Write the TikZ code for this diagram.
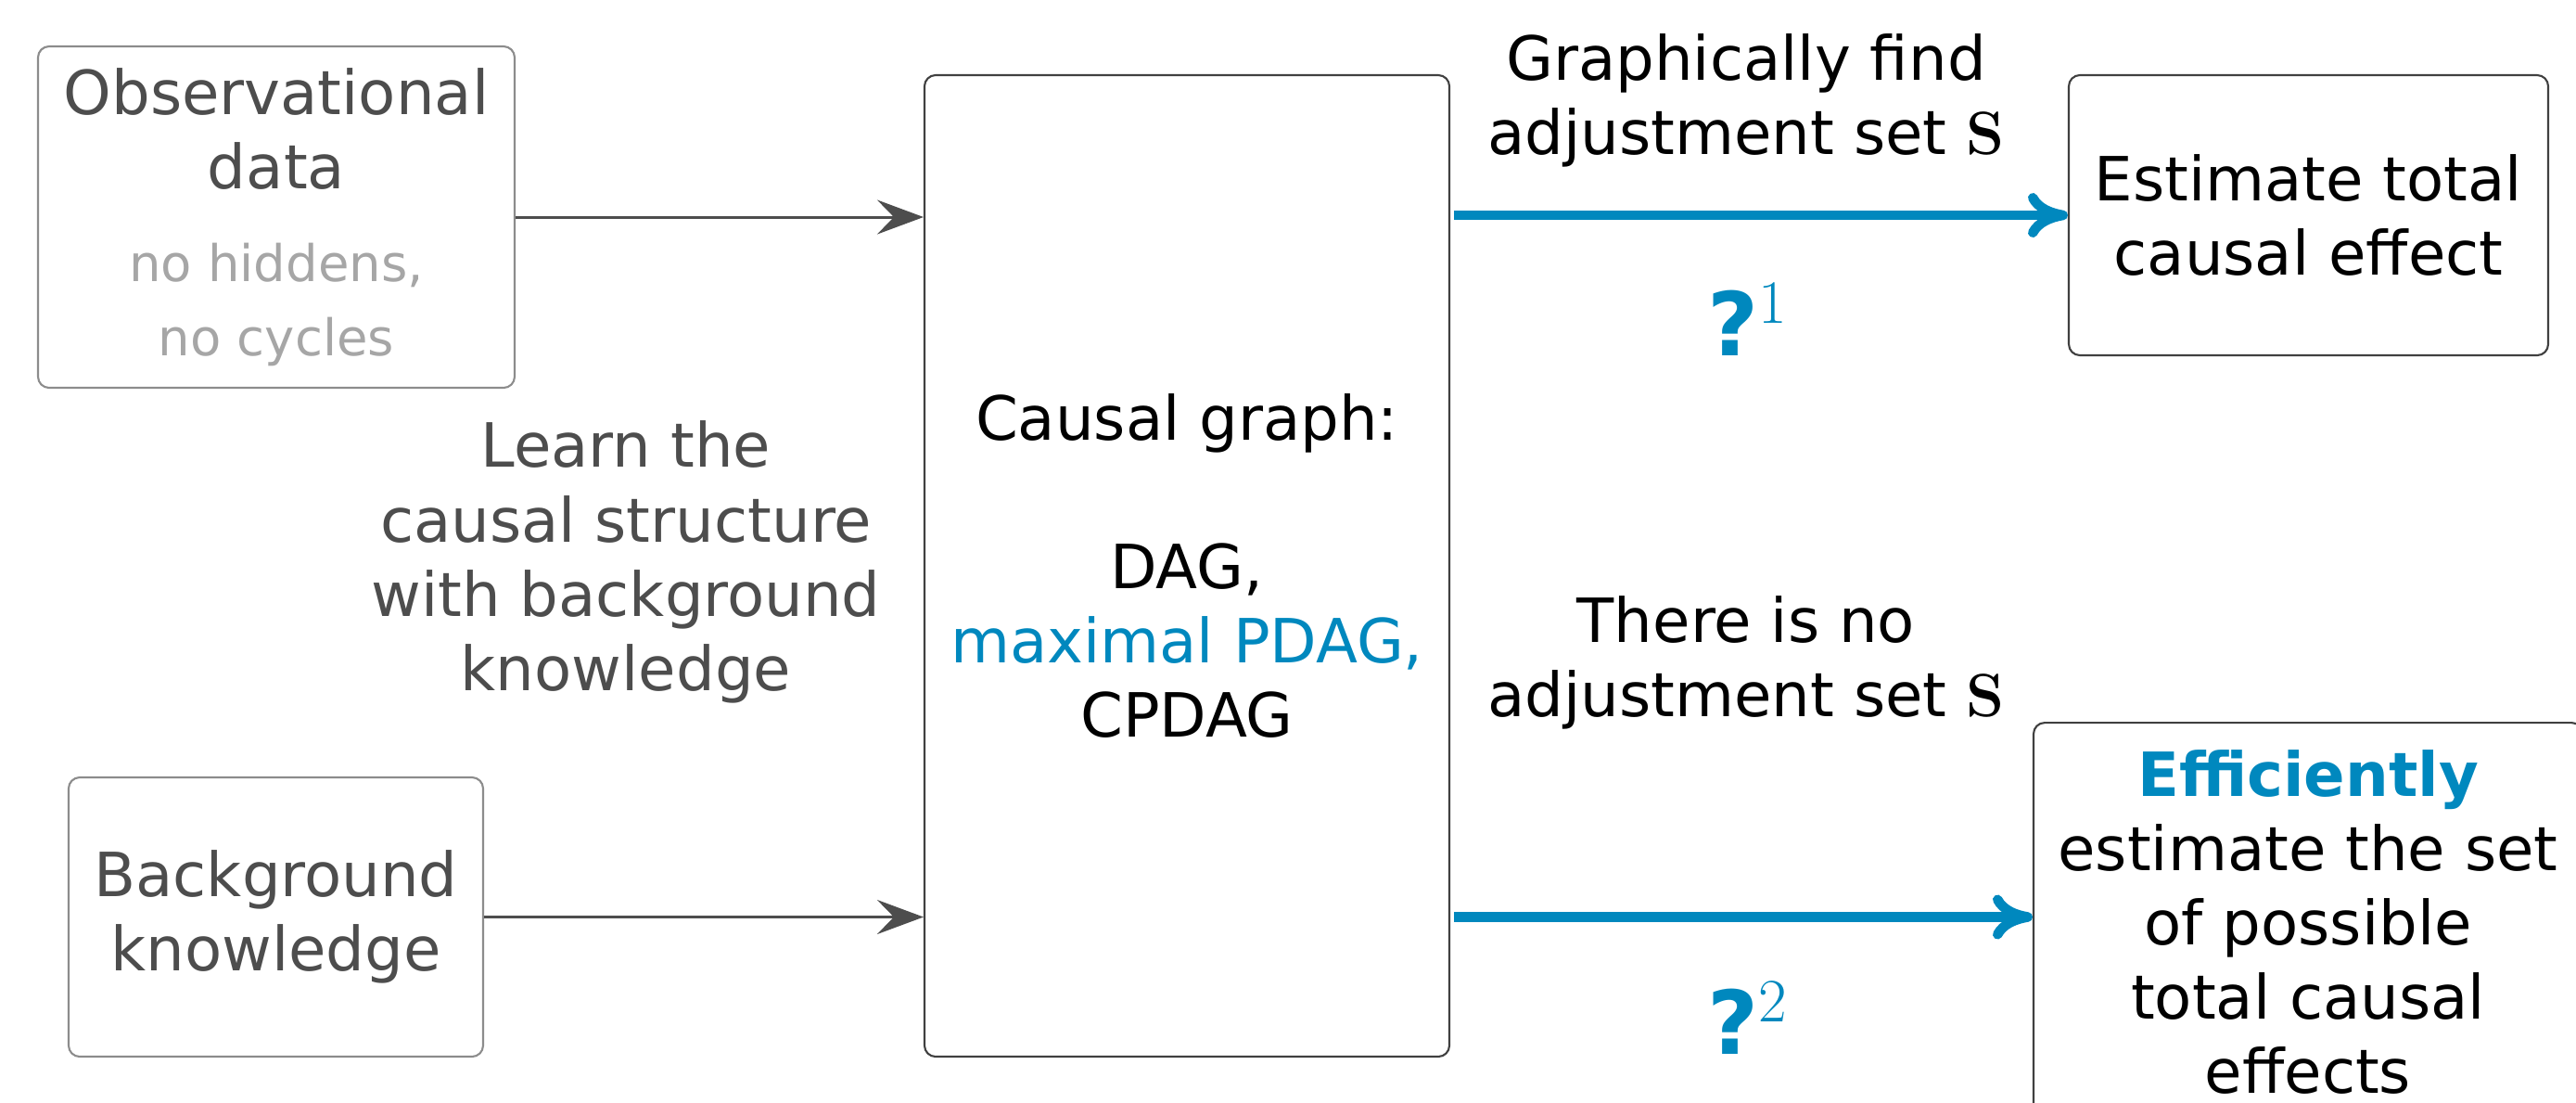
\RequirePackage{fix-cm}
\documentclass[tikz,border=0pt]{standalone}
\usepackage[no-math]{fontspec}
\setmainfont{DejaVu Sans}
\usetikzlibrary{arrows.meta}
\definecolor{InkGrey}{HTML}{4D4D4D}
\definecolor{SoftGrey}{HTML}{A6A6A6}
\definecolor{EdgeBlue}{RGB}{0, 136, 190}

\begin{document}
\begin{tikzpicture}[
        box/.style={draw=black!75, rounded corners=3.4pt, line width=0.6pt, align=center, inner sep=0pt, font=\fontsize{18.7}{22.8}\selectfont},
        inbox/.style={box, draw=black!45, text=InkGrey},
        note/.style={align=center, inner sep=0pt, font=\fontsize{18.7}{22.8}\selectfont},
        qmark/.style={inner sep=0pt, anchor=base, text=EdgeBlue, font=\fontsize{27}{32}\selectfont},
        feed/.style={-{Stealth[length=5mm, width=3.7mm, inset=1.8mm]}, line width=0.85pt, InkGrey},
        flow/.style={-{Computer Modern Rightarrow[length=4.3mm, width=4.8mm]}, line width=3pt, EdgeBlue, shorten <=0.4mm}
    ]
        \clip (0, 0) rectangle (27.78, -11.88);

        % Inputs
        \node[inbox, minimum width=5.14cm, minimum height=3.68cm] (obs) at (2.98, -2.34) {Observational\\data\\[0.2cm]\color{SoftGrey}\fontsize{15.5}{22.3}\selectfont no hiddens,\\\color{SoftGrey}\fontsize{15.5}{22.3}\selectfont no cycles};
        \node[inbox, minimum width=4.47cm, minimum height=3.01cm] (bk) at (2.975, -9.885) {Background\\knowledge};
        \node[note, text=InkGrey] (learn) at (6.75, -6.06) {Learn the\\causal structure\\with background\\knowledge};

        % Graph
        \node[box, minimum width=5.66cm, minimum height=10.58cm] (graph) at (12.80, -6.10) {Causal graph:\\[0.8cm]DAG,\\\color{EdgeBlue}maximal PDAG,\\CPDAG};

        % Outcomes
        \node[box, minimum width=5.17cm, minimum height=3.02cm] (est) at (24.895, -2.32) {Estimate total\\causal effect};
        \node[box, minimum width=5.92cm, minimum height=4.3cm, anchor=north] (eff) at (24.89, -7.78) {\textbf{\color{EdgeBlue}Efficiently}\\estimate the set\\of possible\\total causal\\effects};

        \node[note] (find) at (18.83, -1.08) {Graphically find\\adjustment set $\mathbf{S}$};
        \node[qmark] (q1) at (18.85, -3.83) {\textbf{?}$^1$};
        \node[note] (noset) at (18.83, -7.14) {There is no\\adjustment set $\mathbf{S}$};
        \node[qmark] (q2) at (18.85, -11.36) {\textbf{?}$^2$};

        % Connections
        \draw[feed] (obs.east) -- (obs.east -| graph.west);
        \draw[feed] (bk.east) -- (bk.east -| graph.west);
        \draw[flow] (graph.east |- est.west) -- (est.west);
        \draw[flow] (graph.east |- bk.east) -- (bk.east -| eff.west);
    \end{tikzpicture}
\end{document}
